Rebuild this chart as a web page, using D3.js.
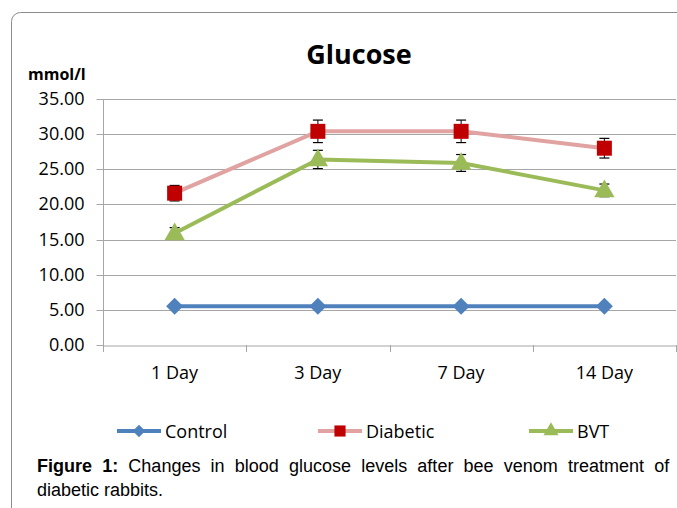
<!DOCTYPE html>
<html><head><meta charset="utf-8">
<script src="https://cdn.jsdelivr.net/npm/d3@7"></script>
<style>html,body{margin:0;padding:0;background:#fff;}svg{display:block;}</style>
</head><body>
<script>
const categories = ["1 Day", "3 Day", "7 Day", "14 Day"];
const controlValues = [5.5, 5.5, 5.5, 5.5];
const diabeticValues = [21.6, 30.4, 30.4, 28.0];
const diabeticErrors = [1.1, 1.6, 1.6, 1.4];
const bvtValues = [15.9, 26.4, 25.9, 22.0];
const bvtErrors = [0.8, 1.3, 1.2, 0.9];
const controlErrors = [0, 0, 0, 0];
const yTicks = [0, 5, 10, 15, 20, 25, 30, 35];
const seriesNames = ["Control", "Diabetic", "BVT"];

const W = 677, H = 508;
const svg = d3.select("body").append("svg").attr("width", W).attr("height", H);
const font = "'Open Sans', sans-serif";

// outer frame
svg.append("rect").attr("x", 11.5).attr("y", 12.5).attr("width", 720).attr("height", 600)
  .attr("rx", 9).attr("fill", "none").attr("stroke", "#8c8c8c").attr("stroke-width", 1);

const x0 = 103, x1 = 676, yTop = 99, yBot = 345;
const x = d3.scaleBand().domain(categories).range([x0, x1]);
const y = d3.scaleLinear().domain([0, 35]).range([yBot, yTop]);

// gridlines
svg.append("g").selectAll("line").data(yTicks.filter(d => d > 0)).join("line")
  .attr("x1", x0).attr("x2", x1)
  .attr("y1", d => Math.round(y(d)) + 0.5).attr("y2", d => Math.round(y(d)) + 0.5)
  .attr("stroke", "#a6a6a6").attr("stroke-width", 1);

// y axis
const yAxis = svg.append("g").attr("transform", `translate(${x0 + 0.5},0)`)
  .call(d3.axisLeft(y).tickValues(yTicks).tickFormat(d3.format(".2f")).tickSize(7).tickPadding(12));
yAxis.select(".domain").attr("stroke", "#a6a6a6").attr("d", `M-0,${yTop}V${yBot}`);
yAxis.selectAll(".tick line").attr("stroke", "#a6a6a6");
yAxis.selectAll(".tick text").attr("font-family", font).attr("font-size", 18).attr("fill", "#000");
yAxis.selectAll(".tick").attr("transform", d => `translate(0,${Math.round(y(d)) + 0.5})`);

// x axis
const xAxis = svg.append("g").attr("transform", `translate(0,${yBot + 0.5})`)
  .call(d3.axisBottom(x).tickSize(0).tickPadding(21));
xAxis.select(".domain").attr("stroke", "#a6a6a6");
xAxis.selectAll(".tick text").attr("font-family", font).attr("font-size", 18).attr("fill", "#000");
// category boundary ticks
const bounds = categories.map(c => x(c)).concat([x1]);
svg.append("g").selectAll("line").data(bounds).join("line")
  .attr("x1", d => Math.round(d) + 0.5).attr("x2", d => Math.round(d) + 0.5)
  .attr("y1", yBot).attr("y2", yBot + 7).attr("stroke", "#a6a6a6");

const cx = c => x(c) + x.bandwidth() / 2;
const series = [
  {name: "Control", vals: controlValues, err: controlErrors, line: "#4f81bd", mark: "#4f81bd", sym: d3.symbolSquare, size: 144, rot: 45},
  {name: "Diabetic", vals: diabeticValues, err: diabeticErrors, line: "#e0a3a1", mark: "#c00000", sym: d3.symbolSquare, size: 225, rot: 0},
  {name: "BVT", vals: bvtValues, err: bvtErrors, line: "#9bbb59", mark: "#9bbb59", sym: d3.symbolTriangle, size: 180, rot: 0}
];

const line = d3.line().x((d, i) => cx(categories[i])).y(d => y(d));
series.forEach(s => {
  const g = svg.append("g");
  g.append("path").datum(s.vals).attr("d", line).attr("fill", "none")
    .attr("stroke", s.line).attr("stroke-width", 4).attr("stroke-linejoin", "round");
  // error bars
  const eb = g.append("g");
  s.vals.forEach((v, i) => {
    if (!s.err[i]) return;
    const xc = cx(categories[i]);
    const t = y(v + s.err[i]), b = y(v - s.err[i]);
    eb.append("line").attr("x1", xc).attr("x2", xc).attr("y1", t).attr("y2", b).attr("stroke", "#000").attr("stroke-width", 1);
    [t, b].forEach(yy => eb.append("line").attr("x1", xc - 5).attr("x2", xc + 5).attr("y1", yy).attr("y2", yy).attr("stroke", "#000").attr("stroke-width", 1.2));
  });
  g.selectAll(".m").data(s.vals).join("path")
    .attr("d", d3.symbol().type(s.sym).size(s.size))
    .attr("transform", (d, i) => `translate(${cx(categories[i])},${y(d) + (s.sym === d3.symbolTriangle ? 1 : 0)}) rotate(${s.rot})`)
    .attr("fill", s.mark);
});

// title
svg.append("text").attr("x", 359).attr("y", 64).attr("text-anchor", "middle")
  .attr("font-family", font).attr("font-weight", "bold").attr("font-size", 27).text("Glucose");
svg.append("text").attr("x", 28).attr("y", 80)
  .attr("font-family", font).attr("font-weight", "bold").attr("font-size", 16).text("mmol/l");

// legend
const legendX = [117, 318, 529];
const lg = svg.append("g");
series.forEach((s, i) => {
  const lx = legendX[i], ly = 431;
  lg.append("line").attr("x1", lx).attr("x2", lx + 44).attr("y1", ly).attr("y2", ly)
    .attr("stroke", s.line).attr("stroke-width", 4);
  lg.append("path").attr("d", d3.symbol().type(s.sym).size(s.size * 0.55))
    .attr("transform", `translate(${lx + 22},${ly}) rotate(${s.rot})`).attr("fill", s.mark);
  lg.append("text").attr("x", lx + 48).attr("y", ly + 7)
    .attr("font-family", font).attr("font-size", 18).text(seriesNames[i]);
});

// caption
const capFont = "'Liberation Sans', Arial, sans-serif";
const cap1 = svg.append("text").attr("x", 37).attr("y", 472)
  .attr("font-family", capFont).attr("font-size", 18);
cap1.append("tspan").attr("font-weight", "bold").text("Figure 1:");
cap1.append("tspan").text(" Changes in blood glucose levels after bee venom treatment of");
const natural = cap1.node().getComputedTextLength();
const spaces = 10;
cap1.attr("word-spacing", Math.max(0, (664 - 37 - natural) / spaces));
svg.append("text").attr("x", 37).attr("y", 496)
  .attr("font-family", capFont).attr("font-size", 18).text("diabetic rabbits.");
</script>
</body></html>
